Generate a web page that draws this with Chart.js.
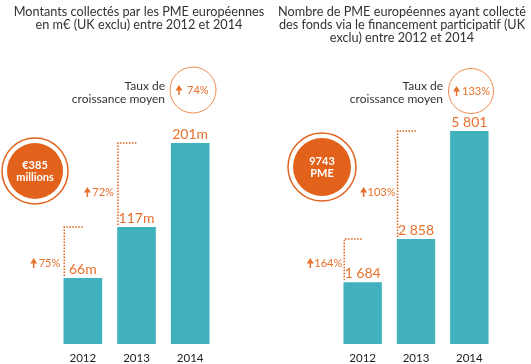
<!DOCTYPE html>
<html><head><meta charset="utf-8">
<script src="https://cdn.jsdelivr.net/npm/chart.js@4"></script>
<style>html,body{margin:0;padding:0;background:#fff;}#wrap{position:relative;width:531px;height:364px;}canvas{position:absolute;left:0;top:0;}</style>
</head><body><div id="wrap"><canvas id="c1" width="531" height="364"></canvas><canvas id="c2" width="531" height="364"></canvas></div>
<script>
// ---- data ----
const years = ['2012', '2013', '2014'];
const amounts = [66, 117, 201];
const amountLabels = ['66m', '117m', '201m'];
const amountGrowth = ['75%', '72%'];
const amountAvg = '74%';
const amountTotal = ['€385', 'millions'];
const smeCounts = [1684, 2858, 5801];
const smeLabels = ['1 684', '2 858', '5 801'];
const smeGrowth = ['164%', '103%'];
const smeAvg = '133%';
const smeTotal = ['9743', 'PME'];
const leftTitle = ['Montants collectés par les PME européennes', 'en m€ (UK exclu) entre 2012 et 2014'];
const rightTitle = ['Nombre de PME européennes ayant collecté', 'des fonds via le financement participatif (UK', 'exclu) entre 2012 et 2014'];
const avgCaption = ['Taux de', 'croissance moyen'];

const FONT = "Lato, 'Open Sans', sans-serif";
const ORANGE = '#e2621b';
const ORANGE_T = '#e8702c';
const TEAL = '#41b1bd';

function arrow(ctx, cx, cy, color) {
  ctx.save();
  ctx.fillStyle = color;
  ctx.beginPath();
  ctx.moveTo(cx, cy - 5);
  ctx.lineTo(cx + 3.5, cy + 0.5);
  ctx.lineTo(cx - 3.5, cy + 0.5);
  ctx.closePath();
  ctx.fill();
  ctx.fillRect(cx - 0.75, cy, 1.5, 5);
  ctx.restore();
}

function makePlugin(cfg) {
  return {
    id: 'deco',
    afterDatasetsDraw(chart) {
      const ctx = chart.ctx;
      const bars = chart.getDatasetMeta(0).data;
      ctx.save();
      // title
      ctx.fillStyle = '#333';
      ctx.font = '12.7px ' + FONT;
      ctx.textAlign = 'center';
      ctx.textBaseline = 'middle';
      cfg.title.forEach((t, i) => ctx.fillText(t, cfg.titleX, 12 + i * 13));
      // value labels + year labels
      bars.forEach((b, i) => {
        ctx.fillStyle = ORANGE_T;
        ctx.font = '14px ' + FONT;
        ctx.textAlign = 'center';
        ctx.fillText(cfg.valueLabels[i], b.x, b.y - 9);
        ctx.fillStyle = '#222';
        ctx.font = '11.5px ' + FONT;
        ctx.fillText(cfg.years[i], b.x, 358);
      });
      // dotted connectors
      ctx.strokeStyle = ORANGE;
      ctx.lineWidth = 1.5;
      ctx.setLineDash([1.5, 1.5]);
      for (let i = 0; i < bars.length - 1; i++) {
        const b = bars[i], n = bars[i + 1];
        const left = b.x - b.width / 2 + 0.75;
        ctx.beginPath();
        ctx.moveTo(left, b.y - 2);
        ctx.lineTo(left, n.y);
        ctx.lineTo(b.x, n.y);
        ctx.stroke();
        // growth label
        ctx.setLineDash([]);
        ctx.font = '11px ' + FONT;
        ctx.fillStyle = ORANGE_T;
        ctx.textAlign = 'right';
        const tx = left - cfg.growthGap;
        const ty = cfg.growthY[i];
        ctx.fillText(cfg.growth[i], tx, ty);
        const w = ctx.measureText(cfg.growth[i]).width;
        arrow(ctx, tx - w - cfg.arrowGap, ty, ORANGE_T);
        ctx.setLineDash([1.5, 1.5]);
      }
      ctx.setLineDash([]);
      // big circle
      const bc = cfg.big;
      ctx.beginPath();
      ctx.arc(bc.x, bc.y, bc.r1, 0, Math.PI * 2);
      ctx.strokeStyle = ORANGE;
      ctx.lineWidth = 1.5;
      ctx.stroke();
      ctx.beginPath();
      ctx.arc(bc.x, bc.y, bc.r2, 0, Math.PI * 2);
      ctx.fillStyle = ORANGE;
      ctx.fill();
      ctx.fillStyle = '#fff';
      ctx.font = 'bold 11px ' + FONT;
      ctx.textAlign = 'center';
      ctx.fillText(cfg.total[0], bc.x, bc.y - 6);
      ctx.fillText(cfg.total[1], bc.x, bc.y + 6);
      // small circle
      const sc = cfg.small;
      ctx.beginPath();
      ctx.arc(sc.x, sc.y, sc.r, 0, Math.PI * 2);
      ctx.strokeStyle = '#ef8a4f';
      ctx.lineWidth = 1;
      ctx.stroke();
      ctx.font = '11px ' + FONT;
      ctx.fillStyle = ORANGE_T;
      ctx.textAlign = 'left';
      ctx.fillText(cfg.avg, sc.textX, sc.y);
      arrow(ctx, sc.arrowX, sc.y, ORANGE_T);
      ctx.fillStyle = '#333';
      ctx.textAlign = 'right';
      ctx.font = '12px ' + FONT;
      ctx.fillText(avgCaption[0], cfg.capX, 86);
      ctx.fillText(avgCaption[1], cfg.capX, 99);
      ctx.restore();
    }
  };
}

function makeChart(id, values, max, padding, cfg) {
  return new Chart(document.getElementById(id), {
    type: 'bar',
    data: { labels: years, datasets: [{ data: values, backgroundColor: TEAL, borderWidth: 0,
      categoryPercentage: 1, barPercentage: 0.72 }] },
    options: {
      responsive: false, animation: false,
      layout: { padding },
      plugins: { legend: { display: false }, tooltip: { enabled: false } },
      scales: { x: { display: false }, y: { display: false, min: 0, max } },
      events: []
    },
    plugins: [makePlugin(cfg)]
  });
}

makeChart('c1', amounts, 250, { left: 56, right: 314, top: 94, bottom: 20 }, {
  title: leftTitle, titleX: 139, valueLabels: amountLabels, years,
  growth: amountGrowth, growthY: [263, 192], growthGap: 4, arrowGap: 5,
  big: { x: 35, y: 171, r1: 33, r2: 28 }, total: amountTotal,
  small: { x: 193, y: 90, r: 23, textX: 187, arrowX: 179 }, avg: amountAvg, capX: 165
});
makeChart('c2', smeCounts, 6809, { left: 336, right: 35, top: 94, bottom: 20 }, {
  title: rightTitle, titleX: 402, valueLabels: smeLabels, years,
  growth: smeGrowth, growthY: [263, 192], growthGap: 2, arrowGap: 4,
  big: { x: 322, y: 167, r1: 34, r2: 29 }, total: smeTotal,
  small: { x: 471, y: 91, r: 22.5, textX: 462, arrowX: 456.5 }, avg: smeAvg, capX: 443
});
</script></body></html>
